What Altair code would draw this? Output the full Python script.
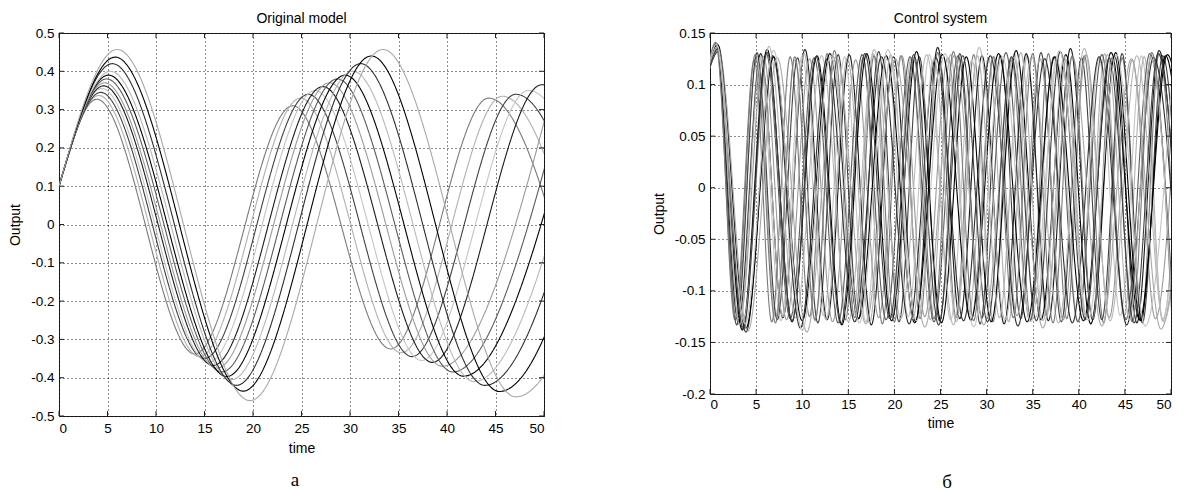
import altair as alt
import pandas as pd

# ---------------- text ----------------
L_TITLE = "Original model"
R_TITLE = "Control system"
X_TITLE = "time"
Y_TITLE = "Output"
PANEL_LABELS = ["а", "б"]

# ---------------- ticks ----------------
X_TICKS = [0, 5, 10, 15, 20, 25, 30, 35, 40, 45, 50]
L_Y_TICKS = [-0.5, -0.4, -0.3, -0.2, -0.1, 0, 0.1, 0.2, 0.3, 0.4, 0.5]
R_Y_TICKS = [-0.2, -0.15, -0.1, -0.05, 0, 0.05, 0.1, 0.15]

# ---------------- left panel: turning points of each run (time, output) ----------------
L_T = [
    [0, 3.9, 14.0, 24.1, 34.2, 44.3, 54.4],
    [0, 4.1, 14.5, 24.9, 35.3, 45.7, 56.1],
    [0, 4.3, 15.0, 25.7, 36.4, 47.1, 57.8],
    [0, 4.4, 15.4, 26.4, 37.4, 48.4, 59.4],
    [0, 4.6, 15.9, 27.2, 38.5, 49.8, 61.1],
    [0, 4.7, 16.3, 27.9, 39.5, 51.1],
    [0, 4.9, 16.8, 28.7, 40.6, 52.5],
    [0, 5.1, 17.3, 29.5, 41.7, 53.9],
    [0, 5.3, 17.8, 30.3, 42.8, 55.3],
    [0, 5.5, 18.3, 31.1, 43.9, 56.7],
    [0, 5.8, 19.0, 32.2, 45.4, 58.6],
    [0, 6.0, 19.7, 33.4, 47.1, 60.8],
]
L_V = [
    [0.1, 0.327, -0.338, 0.31, -0.325, 0.33, -0.33],
    [0.1, 0.337, -0.345, 0.33, -0.335, 0.335, -0.34],
    [0.1, 0.345, -0.35, 0.34, -0.345, 0.34, -0.34],
    [0.1, 0.355, -0.36, 0.35, -0.355, 0.35, -0.35],
    [0.1, 0.362, -0.368, 0.36, -0.36, 0.365, -0.36],
    [0.1, 0.37, -0.375, 0.37, -0.37, 0.372],
    [0.1, 0.38, -0.385, 0.38, -0.385, 0.38],
    [0.1, 0.39, -0.397, 0.39, -0.396, 0.39],
    [0.1, 0.40, -0.405, 0.40, -0.41, 0.40],
    [0.1, 0.42, -0.42, 0.42, -0.42, 0.42],
    [0.1, 0.437, -0.435, 0.44, -0.436, 0.44],
    [0.1, 0.457, -0.46, 0.457, -0.45, 0.45],
]
L_COLORS = ["#7a7a7a", "#b0b0b0", "#404040", "#c4c4c4", "#1a1a1a", "#9a9a9a",
            "#5a5a5a", "#000000", "#b8b8b8", "#2e2e2e", "#000000", "#a8a8a8"]

# ---------------- right panel: turning points of each run ----------------
R_T = [
    [0, 0.7, 2.7, 4.8, 6.7, 8.7, 10.8, 12.7, 14.7, 16.6, 18.7, 20.7, 22.8, 24.7, 26.7, 28.6, 30.7, 32.7, 34.8, 36.7, 38.7, 40.6, 42.7, 44.7, 46.8, 48.7, 50.7],
    [0, 0.8, 2.9, 5.1, 7.1, 9.2, 11.4, 13.4, 15.5, 17.7, 19.7, 21.8, 23.9, 26.1, 28.1, 30.2, 32.4, 34.4, 36.5, 38.6, 40.8, 42.8, 44.9, 47.1, 49.1, 51.2],
    [0, 0.7, 2.9, 5.1, 7.3, 9.5, 11.7, 13.9, 16.1, 18.3, 20.5, 22.7, 24.9, 27.1, 29.3, 31.5, 33.7, 35.9, 38.1, 40.3, 42.5, 44.7, 46.9, 49.1, 51.3],
    [0, 0.8, 3.1, 5.4, 7.7, 10.0, 12.3, 14.6, 16.9, 19.2, 21.5, 23.8, 26.1, 28.4, 30.7, 33.0, 35.3, 37.6, 39.9, 42.2, 44.5, 46.8, 49.1, 51.4],
    [0, 0.7, 3.1, 5.5, 7.9, 10.3, 12.7, 15.1, 17.5, 19.9, 22.3, 24.7, 27.1, 29.5, 31.9, 34.3, 36.7, 39.1, 41.5, 43.9, 46.3, 48.7, 51.1],
    [0, 0.8, 3.3, 5.8, 8.3, 10.8, 13.3, 15.8, 18.3, 20.8, 23.3, 25.8, 28.3, 30.8, 33.3, 35.8, 38.3, 40.8, 43.3, 45.8, 48.3, 50.8],
    [0, 0.9, 3.5, 6.1, 8.7, 11.3, 13.9, 16.5, 19.1, 21.7, 24.3, 26.9, 29.5, 32.1, 34.7, 37.3, 39.9, 42.5, 45.1, 47.7, 50.3],
    [0, 0.8, 3.5, 6.2, 8.9, 11.6, 14.3, 17.0, 19.7, 22.4, 25.1, 27.8, 30.5, 33.2, 35.9, 38.6, 41.3, 44.0, 46.7, 49.4, 52.1],
    [0, 0.7, 3.6, 6.4, 9.3, 12.1, 15.0, 17.8, 20.7, 23.5, 26.4, 29.2, 32.0, 34.9, 37.8, 40.6, 43.4, 46.3, 49.2, 52.0],
    [0, 0.9, 3.9, 6.8, 9.8, 12.7, 15.7, 18.6, 21.6, 24.5, 27.5, 30.4, 33.4, 36.3, 39.3, 42.2, 45.2, 48.1, 51.0],
    [0, 0.8, 3.9, 6.9, 10.0, 13.0, 16.1, 19.1, 22.2, 25.2, 28.3, 31.3, 34.4, 37.4, 40.5, 43.5, 46.6, 49.6, 52.7],
    [0, 0.9, 4.1, 7.3, 10.5, 13.7, 16.9, 20.1, 23.3, 26.5, 29.7, 32.9, 36.1, 39.3, 42.5, 45.7, 48.9, 52.1],
    [0, 0.6, 2.8, 4.9, 7.1, 9.2, 11.4, 13.5, 15.7, 17.8, 20.0, 22.1, 24.3, 26.4, 28.6, 30.7, 32.9, 35.0, 37.2, 39.3, 41.5, 43.6, 45.8, 47.9, 50.1],
    [0, 0.8, 3.2, 5.5, 7.9, 10.2, 12.6, 14.9, 17.3, 19.6, 22.0, 24.3, 26.7, 29.0, 31.4, 33.7, 36.1, 38.4, 40.8, 43.1, 45.5, 47.8, 50.2],
    [0, 0.9, 3.6, 6.2, 8.9, 11.5, 14.2, 16.8, 19.5, 22.1, 24.8, 27.4, 30.1, 32.7, 35.4, 38.0, 40.7, 43.3, 46.0, 48.6, 51.3],
    [0, 0.7, 3.8, 6.9, 10.0, 13.1, 16.2, 19.3, 22.4, 25.5, 28.6, 31.7, 34.8, 37.9, 41.0, 44.1, 47.2, 50.3],
]
R_V = [
    [0.12, 0.138, -0.128, 0.124, -0.13, 0.127, -0.125, 0.13, -0.128, 0.126, -0.132, 0.128, -0.127, 0.131, -0.126, 0.129, -0.13, 0.125, -0.128, 0.13, -0.127, 0.128, -0.131, 0.126, -0.129, 0.13, -0.128],
    [0.118, 0.135, -0.122, 0.128, -0.125, 0.124, -0.129, 0.127, -0.124, 0.13, -0.126, 0.125, -0.128, 0.129, -0.123, 0.126, -0.13, 0.128, -0.125, 0.124, -0.127, 0.13, -0.124, 0.127, -0.129, 0.125],
    [0.125, 0.14, -0.133, 0.131, -0.128, 0.126, -0.131, 0.129, -0.127, 0.132, -0.13, 0.127, -0.129, 0.13, -0.132, 0.128, -0.127, 0.131, -0.13, 0.126, -0.128, 0.13, -0.131, 0.128, -0.129],
    [0.12, 0.136, -0.127, 0.125, -0.129, 0.128, -0.124, 0.127, -0.13, 0.126, -0.125, 0.129, -0.128, 0.124, -0.127, 0.13, -0.126, 0.127, -0.129, 0.125, -0.124, 0.128, -0.127, 0.126],
    [0.122, 0.137, -0.131, 0.13, -0.126, 0.134, -0.128, 0.129, -0.133, 0.127, -0.13, 0.136, -0.127, 0.128, -0.132, 0.13, -0.129, 0.135, -0.128, 0.127, -0.131, 0.133, -0.13],
    [0.116, 0.133, -0.124, 0.127, -0.128, 0.125, -0.13, 0.124, -0.126, 0.128, -0.125, 0.126, -0.129, 0.127, -0.124, 0.125, -0.128, 0.129, -0.126, 0.124, -0.127, 0.128],
    [0.12, 0.138, -0.135, 0.13, -0.127, 0.126, -0.131, 0.129, -0.128, 0.127, -0.13, 0.128, -0.126, 0.131, -0.129, 0.127, -0.13, 0.129, -0.128, 0.13, -0.127],
    [0.124, 0.139, -0.138, 0.134, -0.13, 0.128, -0.133, 0.13, -0.129, 0.132, -0.131, 0.127, -0.13, 0.133, -0.128, 0.129, -0.132, 0.131, -0.129, 0.128, -0.13],
    [0.121, 0.136, -0.129, 0.137, -0.126, 0.128, -0.13, 0.134, -0.127, 0.129, -0.133, 0.136, -0.128, 0.127, -0.131, 0.135, -0.129, 0.128, -0.13, 0.133],
    [0.117, 0.132, -0.14, 0.128, -0.136, 0.125, -0.13, 0.127, -0.132, 0.126, -0.129, 0.128, -0.134, 0.125, -0.131, 0.127, -0.133, 0.126, -0.13],
    [0.123, 0.138, -0.136, 0.127, -0.129, 0.13, -0.127, 0.128, -0.131, 0.129, -0.128, 0.13, -0.13, 0.127, -0.129, 0.131, -0.128, 0.129, -0.13],
    [0.119, 0.134, -0.139, 0.126, -0.14, 0.127, -0.132, 0.125, -0.135, 0.128, -0.133, 0.126, -0.136, 0.127, -0.134, 0.125, -0.137, 0.126],
    [0.126, 0.141, -0.126, 0.129, -0.131, 0.127, -0.128, 0.133, -0.126, 0.128, -0.13, 0.126, -0.127, 0.132, -0.129, 0.127, -0.126, 0.13, -0.131, 0.128, -0.127, 0.126, -0.13, 0.131, -0.127],
    [0.121, 0.137, -0.133, 0.127, -0.125, 0.13, -0.128, 0.126, -0.131, 0.129, -0.127, 0.125, -0.13, 0.128, -0.126, 0.131, -0.129, 0.127, -0.125, 0.129, -0.128, 0.126, -0.13],
    [0.118, 0.135, -0.137, 0.131, -0.129, 0.127, -0.132, 0.13, -0.127, 0.129, -0.133, 0.128, -0.13, 0.127, -0.129, 0.132, -0.128, 0.126, -0.131, 0.13, -0.127],
    [0.124, 0.139, -0.132, 0.133, -0.138, 0.128, -0.131, 0.134, -0.129, 0.13, -0.135, 0.127, -0.13, 0.133, -0.128, 0.129, -0.134, 0.13],
]
R_COLORS = ["#000000", "#b8b8b8", "#505050", "#8a8a8a", "#1a1a1a", "#c4c4c4",
            "#3a3a3a", "#6e6e6e", "#000000", "#aaaaaa", "#5c5c5c", "#969696",
            "#d0d0d0", "#4a4a4a", "#b0b0b0", "#000000"]
R_DASH = [[1, 0], [1, 0], [5, 2], [1, 0], [1, 0], [5, 2],
          [1, 0], [5, 2], [1, 0], [1, 0], [4, 2], [1, 0],
          [1, 0], [5, 2], [4, 2], [1, 0]]
R_WIDTH = [1.0, 1.2, 1.8, 1.1, 1.0, 1.6, 1.0, 1.8, 1.0, 1.2, 1.8, 1.1,
           1.2, 1.8, 1.6, 1.0]

FONT = "Liberation Sans"
FRAME = "#222222"
TICK_LEN = 5
LABEL_EXPR = "datum.value == 0 ? '0' : '' + round(datum.value * 100) / 100"


def make_frame(ts, vs, prefix):
    rows = []
    names = []
    for k, (tl, vl) in enumerate(zip(ts, vs)):
        name = f"{prefix}{k:02d}"
        names.append(name)
        for t, v in zip(tl, vl):
            rows.append({"s": name, "t": t, "v": v})
    return pd.DataFrame(rows), names


def panel(df, names, colors, dashes, widths, W, H, ydom, yticks, title,
          label, label_x, label_dy, ytitle_pad, xlab_pad, xtitle_pad):
    xs = alt.Scale(domain=[0, 50], nice=False, zero=False)
    ys = alt.Scale(domain=ydom, nice=False, zero=False)
    lines = alt.Chart(df).mark_line(interpolate="monotone", clip=True).encode(
        x=alt.X("t:Q", scale=xs, axis=alt.Axis(
            values=X_TICKS, tickCount=len(X_TICKS) + 4, title=X_TITLE, grid=True,
            ticks=False, domain=False, labelOverlap=False, labelPadding=xlab_pad,
            titlePadding=xtitle_pad, labelExpr=LABEL_EXPR)),
        y=alt.Y("v:Q", scale=ys, axis=alt.Axis(
            values=yticks, tickCount=len(yticks) + 4, title=Y_TITLE, grid=True,
            ticks=False, domain=False, labelOverlap=False, labelPadding=5,
            titlePadding=ytitle_pad, labelExpr=LABEL_EXPR)),
        color=alt.Color("s:N", scale=alt.Scale(domain=names, range=colors), legend=None),
        strokeDash=alt.StrokeDash("s:N", scale=alt.Scale(domain=names, range=dashes), legend=None),
        strokeWidth=alt.StrokeWidth("s:N", scale=alt.Scale(domain=names, range=widths), legend=None),
    )
    xt = alt.Chart(pd.DataFrame({"tk": X_TICKS}))
    yt = alt.Chart(pd.DataFrame({"tk": yticks}))
    rule = dict(color=FRAME, strokeWidth=1)
    x_bot = xt.mark_rule(**rule).encode(x=alt.X("tk:Q", scale=xs), y=alt.value(H), y2=alt.value(H - TICK_LEN))
    x_top = xt.mark_rule(**rule).encode(x=alt.X("tk:Q", scale=xs), y=alt.value(0), y2=alt.value(TICK_LEN))
    y_lft = yt.mark_rule(**rule).encode(y=alt.Y("tk:Q", scale=ys), x=alt.value(0), x2=alt.value(TICK_LEN))
    y_rgt = yt.mark_rule(**rule).encode(y=alt.Y("tk:Q", scale=ys), x=alt.value(W), x2=alt.value(W - TICK_LEN))
    txt = alt.Chart(pd.DataFrame({"lab": [label]})).mark_text(
        font="Liberation Serif", fontSize=19, baseline="middle", align="center", color="#000"
    ).encode(x=alt.value(label_x), y=alt.value(H + label_dy), text="lab:N")
    return alt.layer(lines, x_bot, x_top, y_lft, y_rgt, txt).properties(
        width=W, height=H,
        title=alt.TitleParams(title, fontSize=14, font=FONT, fontWeight="normal",
                              color="#000", offset=0),
    )


ldf, lnames = make_frame(L_T, L_V, "L")
rdf, rnames = make_frame(R_T, R_V, "R")

left = panel(ldf, lnames, L_COLORS, [[1, 0]] * len(lnames), [1.1] * len(lnames),
             485, 383, [-0.5, 0.5], L_Y_TICKS, L_TITLE, PANEL_LABELS[0], 236, 64, 8, 5, 7)
right = panel(rdf, rnames, R_COLORS, R_DASH, R_WIDTH,
              461, 361, [-0.2, 0.15], R_Y_TICKS, R_TITLE, PANEL_LABELS[1], 237, 88, 8, 3, 6)

chart = alt.hconcat(left, right, spacing=106).properties(
    padding={"left": 0, "top": 3, "right": 0, "bottom": 0},
    background="white",
).configure_view(
    stroke=FRAME, strokeWidth=1
).configure_axis(
    labelFont=FONT, labelFontSize=13.5, labelColor="#000",
    titleFont=FONT, titleFontSize=14, titleFontWeight="normal", titleColor="#000",
    gridColor="#000", gridDash=[1, 3], gridOpacity=0.9, gridWidth=1,
)

chart.save("out.html", embed_options={"renderer": "svg", "actions": False})
